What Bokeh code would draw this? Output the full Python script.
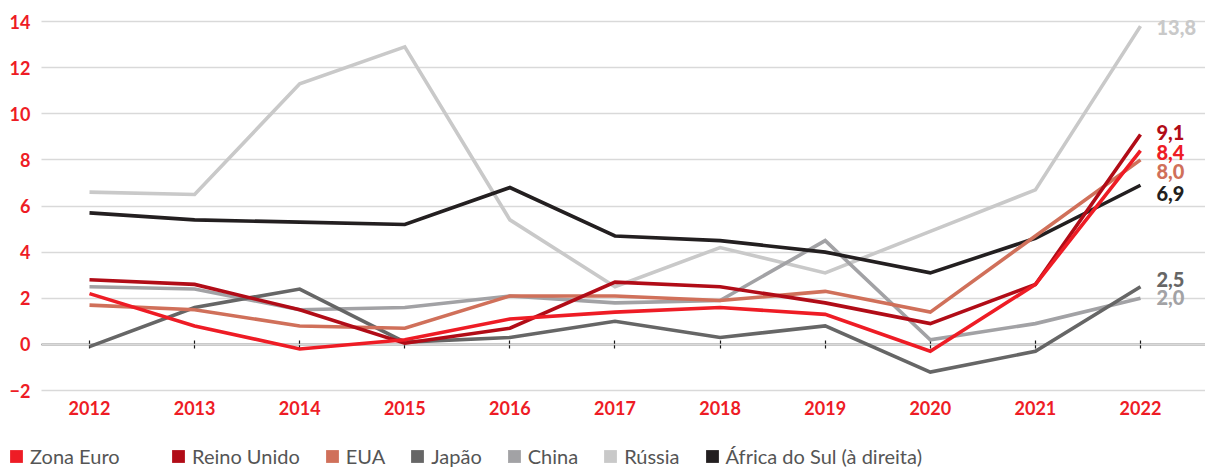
from bokeh.plotting import figure
from bokeh.models import (ColumnDataSource, Range1d, LinearAxis, FixedTicker, Legend,
                          LegendItem, Grid)
from bokeh.core.properties import value
from bokeh.embed import file_html
from bokeh.resources import INLINE

# ---------------- data ----------------
years = [2012, 2013, 2014, 2015, 2016, 2017, 2018, 2019, 2020, 2021, 2022]
y_ticks = [-2, 0, 2, 4, 6, 8, 10, 12, 14]

zona_euro   = [2.2, 0.8, -0.2, 0.2, 1.1, 1.4, 1.6, 1.3, -0.3, 2.6, 8.4]
reino_unido = [2.8, 2.6, 1.5, 0.05, 0.7, 2.7, 2.5, 1.8, 0.9, 2.6, 9.1]
eua         = [1.7, 1.5, 0.8, 0.7, 2.1, 2.1, 1.9, 2.3, 1.4, 4.7, 8.0]
japao       = [-0.1, 1.6, 2.4, 0.1, 0.3, 1.0, 0.3, 0.8, -1.2, -0.3, 2.5]
china       = [2.5, 2.4, 1.5, 1.6, 2.1, 1.8, 1.9, 4.5, 0.2, 0.9, 2.0]
russia      = [6.6, 6.5, 11.3, 12.9, 5.4, 2.5, 4.2, 3.1, 4.9, 6.7, 13.8]
africa_sul  = [5.7, 5.4, 5.3, 5.2, 6.8, 4.7, 4.5, 4.0, 3.1, 4.6, 6.9]

names = ["Zona Euro", "Reino Unido", "EUA", "Japão", "China", "Rússia",
         "África do Sul (à direita)"]
series = [zona_euro, reino_unido, eua, japao, china, russia, africa_sul]

# ---------------- styles ----------------
colors = ["#ee1c25", "#b10c17", "#d0705a", "#666666", "#a2a2a5", "#c9c9c9", "#231f20"]
draw_order = [5, 4, 3, 6, 2, 1, 0]
# pixel offsets of end labels (ZE, RU, EUA, Japão, China, Rússia, África)
label_dy = [2, -2, 12, -7, -1, 1, 8]
RED = "#ee1c25"
FONT = "Lato"
NAN = float("nan")

X_START, X_END = 2011.1532, 2022.6185
X0 = 2011.5433          # left end of grid / zero line
Y_START, Y_END = -5.382, 14.9106

p = figure(width=1205, height=468, output_backend="svg", toolbar_location=None,
           x_range=Range1d(X_START, X_END), y_range=Range1d(Y_START, Y_END),
           x_axis_type=None, y_axis_type=None,
           min_border_left=0, min_border_right=0, min_border_top=0, min_border_bottom=0)
p.outline_line_color = None
p.background_fill_color = "white"

# horizontal grid lines
if "cross_bounds" in Grid.properties():
    grid = Grid(dimension=1, ticker=FixedTicker(ticks=y_ticks), grid_line_color="#d9d9d9",
                grid_line_width=1.5, cross_bounds=(X0, X_END))
    p.add_layout(grid)
else:
    p.segment(x0=X0, x1=X_END, y0=y_ticks, y1=y_ticks, line_color="#d9d9d9",
              line_width=1.5, level="underlay")

# x axis at zero: line, ticks and year labels
xaxis = LinearAxis(fixed_location=0, bounds=(X0, X_END), ticker=FixedTicker(ticks=years),
                   axis_line_color="#1a1a1a", axis_line_width=1.3,
                   major_tick_in=4, major_tick_out=4, major_tick_line_color="#1a1a1a",
                   major_tick_line_width=1.2, minor_tick_line_color=None,
                   major_label_standoff=53,
                   major_label_text_color=RED, major_label_text_font=FONT,
                   major_label_text_font_style="bold", major_label_text_font_size="18px")
xaxis.level = "underlay"
p.add_layout(xaxis, "below")

# y axis labels
yaxis = LinearAxis(fixed_location=X0, ticker=FixedTicker(ticks=y_ticks), axis_line_color=None,
                   major_tick_line_color=None, minor_tick_line_color=None,
                   major_tick_out=0, major_tick_in=0, major_label_standoff=11,
                   major_label_text_color=RED, major_label_text_font=FONT,
                   major_label_text_font_style="bold", major_label_text_font_size="18px")
p.add_layout(yaxis, "left")

# lines
for i in draw_order:
    p.line(years, series[i], line_color=colors[i], line_width=3.6, line_join="miter")

# end labels
lab_src = ColumnDataSource(dict(
    x=[years[-1]] * len(series),
    y=[s[-1] for s in series],
    text=[f"{s[-1]:.1f}".replace(".", ",") for s in series],
    color=colors,
    dy=label_dy,
))
p.text(x="x", y="y", text="text", text_color="color", y_offset="dy", x_offset=16,
       source=lab_src, text_font=value("'Lato Black', Lato"), text_font_style="bold",
       text_font_size="20px", text_baseline="middle", text_align="left")

# legend (square swatches; proxy renderers with no visible data)
swatches = [p.quad(left=[NAN], right=[NAN], top=[NAN], bottom=[NAN], fill_color=c,
                   line_color=None) for c in colors]
common = dict(orientation="horizontal", glyph_width=16, glyph_height=16, label_standoff=6,
              spacing=24, padding=0, margin=0, border_line_color=None,
              background_fill_alpha=0, label_text_font=FONT, label_text_font_size="20px",
              label_text_color="#555555", label_height=16)
leg1 = Legend(items=[LegendItem(label=names[0], renderers=[swatches[0]])],
              location=(8, 0), **common)
leg2 = Legend(items=[LegendItem(label=names[i], renderers=[swatches[i]]) for i in range(1, 7)],
              location=(170, 0), **common)
p.add_layout(leg1)
p.add_layout(leg2)

open("out.html", "w").write(file_html(p, INLINE))
